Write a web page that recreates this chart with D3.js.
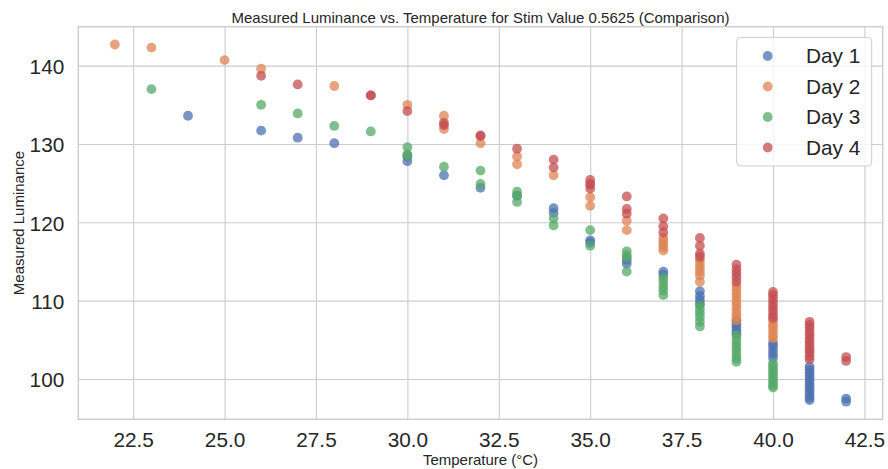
<!DOCTYPE html>
<html><head><meta charset="utf-8">
<script src="https://cdn.jsdelivr.net/npm/d3@7"></script>
<style>html,body{margin:0;padding:0;background:#fff;}svg{display:block;font-family:"Liberation Sans",Arial,sans-serif;}</style>
</head><body><svg id="c" width="888" height="469"></svg>
<script>
const seriesNames = ["Day 1","Day 2","Day 3","Day 4"];
const seriesColors = ["#4C72B0","#DD8452","#55A868","#C44E52"];
const day1 = [[24,133.6],[26,131.7],[27,130.8],[28,130.1],[30,127.8],[30,128.4],[31,126.0],[32,124.4],[33,123.4],
 [34,121.8],[34,121.2],[35,117.7],[35,117.4],[36,114.7],[36,115.2],[37,113.7],[37,113.3],
 [38,111.2],[38,110.6],[38,110.1],[38,109.6],[39,107.5],[39,107.0],[39,106.6],[39,106.2],[39,105.8],
 [40,104.6],[40,104.2],[40,103.7],[40,103.2],[40,102.7],
 [41,101.6],[41,101.2],[41,100.8],[41,100.4],[41,100.0],[41,99.6],[41,99.2],[41,98.8],[41,98.4],[41,98.0],[41,97.6],[41,97.3],
 [42,97.5],[42,97.1]];
const day2 = [[22,142.7],[23,142.3],[25,140.7],[26,139.6],[28,137.4],[30,135.0],[31,133.6],[31,131.9],[32,130.1],
 [33,128.4],[33,127.4],[34,126.0],[35,124.8],[35,123.2],[35,122.1],[36,120.2],[36,119.0],
 [37,118.0],[37,117.6],[37,117.2],[37,116.8],[37,116.4],
 [38,115.2],[38,114.7],[38,114.2],[38,113.7],[38,113.2],[38,112.4],
 [39,111.9],[39,111.4],[39,110.9],[39,110.4],[39,109.9],[39,109.4],[39,108.9],[39,108.4],[39,108.0],[39,107.5],
 [40,107.5],[40,107.0],[40,106.6],[40,106.1],[40,105.6],[40,105.2]];
const day3 = [[23,137.0],[26,135.0],[27,133.9],[28,132.3],[29,131.6],[30,129.6],[30,128.7],[30,128.5],[31,127.1],
 [32,126.6],[32,124.9],[33,123.9],[33,123.4],[33,122.6],[34,120.5],[34,119.6],[35,119.0],[35,117.0],
 [36,116.3],[36,115.8],[36,115.5],[36,113.7],[37,112.9],[37,112.4],[37,111.8],[37,111.3],[37,110.7],
 [38,109.4],[38,108.9],[38,108.4],[38,107.9],[38,107.3],[38,106.7],
 [39,105.6],[39,105.1],[39,104.6],[39,104.1],[39,103.6],[39,103.1],[39,102.6],[39,102.2],
 [40,102.0],[40,101.6],[40,101.2],[40,100.8],[40,100.4],[40,100.0],[40,99.6],[40,99.2],[40,98.9]];
const day4 = [[26,138.7],[27,137.6],[29,136.2],[29,136.2],[30,134.2],[31,132.7],[31,132.4],[32,131.1],[32,131.0],
 [33,129.4],[34,128.0],[34,127.0],[35,125.4],[35,124.9],[35,124.3],[36,123.3],[36,121.7],[36,121.1],
 [37,120.5],[37,119.5],[37,118.7],[38,118.0],[38,117.0],[38,116.0],[38,115.6],
 [39,114.6],[39,114.0],[39,113.5],[39,113.0],[39,112.4],
 [40,111.1],[40,110.7],[40,110.2],[40,109.7],[40,109.2],[40,108.7],[40,108.2],[40,107.8],
 [41,107.3],[41,106.9],[41,106.5],[41,106.0],[41,105.6],[41,105.1],[41,104.7],[41,104.2],[41,103.8],[41,103.4],[41,102.9],[41,102.5],
 [42,102.8],[42,102.3]];
const xTicks = [22.5,25.0,27.5,30.0,32.5,35.0,37.5,40.0,42.5];
const yTicks = [100,110,120,130,140];
const titleText = "Measured Luminance vs. Temperature for Stim Value 0.5625 (Comparison)";
const xLabel = "Temperature (°C)";
const yLabel = "Measured Luminance";

const allSeries = [day1,day2,day3,day4];
const L=78.3,R=882.7,T=26.7,B=419.3;
const x = d3.scaleLinear().domain([21,43]).range([L,R]);
const y = d3.scaleLinear().domain([94.85,144.97]).range([B,T]);
const svg = d3.select("#c");
const txt = "#262626", gridC = "#cccccc";

// grid
const gx = svg.append("g").attr("transform",`translate(0,${B})`)
  .call(d3.axisBottom(x).tickValues(xTicks).tickFormat(d3.format(".1f")).tickSize(-(B-T)).tickPadding(8));
const gy = svg.append("g").attr("transform",`translate(${L},0)`)
  .call(d3.axisLeft(y).tickValues(yTicks).tickSize(-(R-L)).tickPadding(14));
[gx,gy].forEach(g=>{
  g.select(".domain").remove();
  g.selectAll(".tick line").attr("stroke",gridC).attr("stroke-width",1.1);
  g.selectAll(".tick text").attr("fill",txt).style("font-size","20.8px").style("font-family","'Liberation Sans',Arial,sans-serif");
});
gy.selectAll(".tick text").attr("dy","0.38em");
gx.selectAll(".tick text").attr("dy","0.93em");
// frame
svg.append("rect").attr("x",L).attr("y",T).attr("width",R-L).attr("height",B-T)
  .attr("fill","none").attr("stroke",gridC).attr("stroke-width",1.4);

// points
allSeries.forEach((s,i)=>{
  svg.append("g").selectAll("circle").data(s).join("circle")
    .attr("cx",d=>x(d[0])).attr("cy",d=>y(d[1])).attr("r",4.9)
    .attr("fill",seriesColors[i]).attr("fill-opacity",0.75);
});

// title & labels
svg.append("text").attr("x",(L+R)/2).attr("y",22.5).attr("text-anchor","middle")
  .attr("fill",txt).style("font-size","15px").text(titleText);
svg.append("text").attr("x",(L+R)/2).attr("y",465).attr("text-anchor","middle")
  .attr("fill",txt).style("font-size","15px").text(xLabel);
svg.append("text").attr("transform",`translate(24,${(T+B)/2}) rotate(-90)`).attr("text-anchor","middle")
  .attr("fill",txt).style("font-size","15px").text(yLabel);

// legend
const lg = svg.append("g");
lg.append("rect").attr("x",736.7).attr("y",37.3).attr("width",135).attr("height",128.7).attr("rx",4)
  .attr("fill","#fff").attr("fill-opacity",0.8).attr("stroke","#cccccc").attr("stroke-width",1);
seriesNames.forEach((n,i)=>{
  const cy = 56 + i*30.5;
  lg.append("circle").attr("cx",767.7).attr("cy",cy).attr("r",4.9).attr("fill",seriesColors[i]).attr("fill-opacity",0.75);
  lg.append("text").attr("x",806).attr("y",cy).attr("dy","0.36em").attr("fill",txt).style("font-size","20.8px").text(n);
});
</script></body></html>
